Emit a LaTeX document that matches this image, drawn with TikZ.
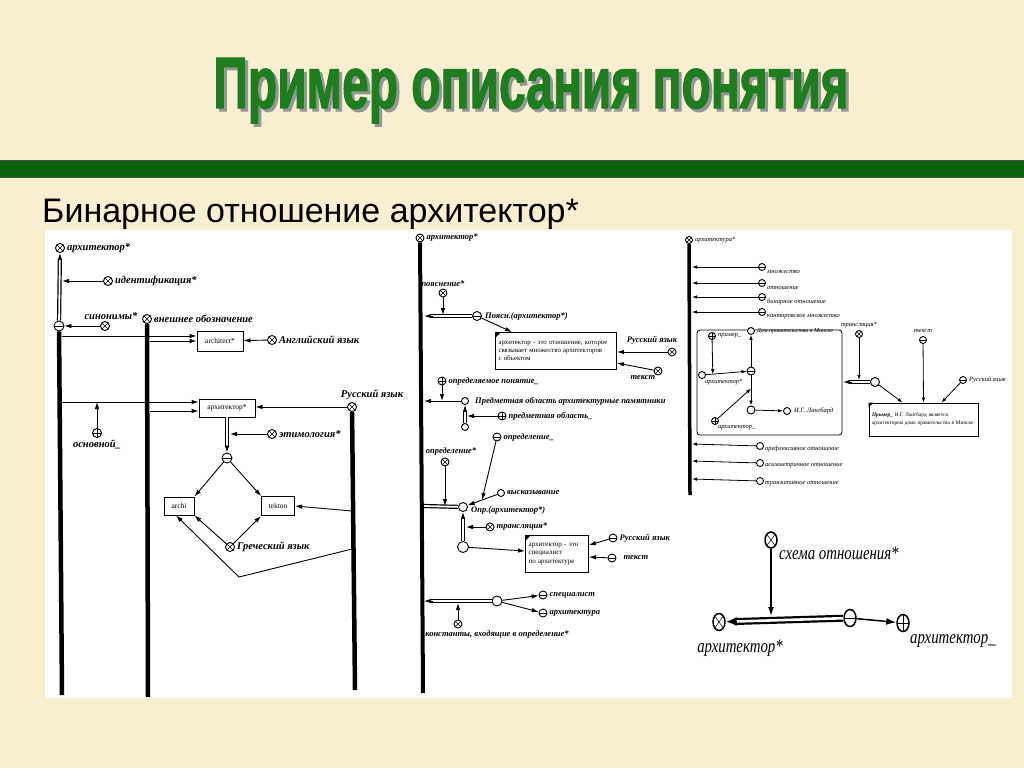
\documentclass[tikz,border=0pt]{standalone}
\usepackage{fontspec}
\usepackage{graphicx}
\setmainfont{Liberation Serif}
\setsansfont{Liberation Sans}
\newfontfamily\narrowserif[FakeStretch=0.78]{Liberation Serif}
\newfontfamily\titlefont[BoldFeatures={FakeBold=2}]{Liberation Sans}
\usetikzlibrary{arrows.meta,calc,positioning,shapes.geometric}

\definecolor{slidebg}{RGB}{247,239,208}
\definecolor{bargreen}{RGB}{12,98,12}
\definecolor{titlegreen}{RGB}{30,125,30}
\definecolor{shadowgray}{RGB}{150,150,150}

% double line ending in a filled tip
\newcommand\dblarr[2]{%
  \draw[dline, shorten >=6pt] (#1) -- (#2);
  \draw[arr] ($(#2)!9pt!(#1)$) -- (#2);}
\newcommand\titletext{\resizebox{635pt}{50pt}{\titlefont\bfseries Пример описания понятия}}

\begin{document}
\begin{tikzpicture}[x=1pt, y=-1pt,
  knot/.style={circle, draw, line width=.9pt, fill=white, inner sep=0pt, minimum size=#1},
  knot/.default=9pt,
  xknot/.style={knot=#1, path picture={\draw[line width=.5pt]
      (path picture bounding box.north west) -- (path picture bounding box.south east)
      (path picture bounding box.north east) -- (path picture bounding box.south west);}},
  xknot/.default=9pt,
  pknot/.style={knot=#1, path picture={\draw[line width=.5pt]
      (path picture bounding box.north) -- (path picture bounding box.south)
      (path picture bounding box.west) -- (path picture bounding box.east);}},
  pknot/.default=9pt,
  mknot/.style={knot=#1, path picture={\draw[line width=.5pt]
      (path picture bounding box.west) -- (path picture bounding box.east);}},
  mknot/.default=9pt,
  dknot/.style={knot=#1, path picture={\fill (path picture bounding box.center) circle (.8pt);}},
  dknot/.default=9pt,
  lbl/.style={font=\bfseries\itshape\fontsize{10.5}{10.5}\selectfont, inner sep=1pt},
  lblm/.style={font=\bfseries\itshape\fontsize{8.5}{8.5}\selectfont, inner sep=1pt},
  lbls/.style={font=\itshape\fontsize{6.5}{6.5}\selectfont, inner sep=1pt},
  lblb/.style={font=\narrowserif\itshape\fontsize{19}{19}\selectfont, inner sep=1pt},
  tbox/.style={draw, line width=.9pt, fill=white, font=\fontsize{7.5}{7.5}\selectfont, inner sep=3pt},
  stem/.style={line width=4.5pt},
  arr/.style={-{Latex[length=7pt,width=4.5pt]}, line width=.9pt},
  arrs/.style={-{Latex[length=5pt,width=3.5pt]}, line width=.8pt},
  dline/.style={double, double distance=1.8pt, line width=1.2pt}]

  \useasboundingbox (0,0) rectangle (1024,768);
  \fill[slidebg] (0,0) rectangle (1024,768);

  % title and bar
  \node[anchor=base, inner sep=0pt] (title) at (531,108)
    {\rlap{\hspace{3pt}\raisebox{-3pt}{\textcolor{shadowgray}{\titletext}}}\textcolor{titlegreen}{\titletext}};
  \fill[bargreen] (0,160) rectangle (1024,177);
  \draw[black!70, line width=1pt] (0,160) -- (1024,160) (0,177) -- (1024,177);
  \node[anchor=base west, inner sep=0pt, font=\sffamily\fontsize{34}{34}\selectfont]
    (subtitle) at (42,222) {Бинарное отношение архитектор*};

  \fill[white] (45,230) rectangle (1012,698);

  %% left part
  \node[xknot] (a1) at (60,248) {};
  \node[lbl, right=1pt of a1] (a1t) {архитектор*};
  \node[mknot=10pt] (ajn) at (59,326) {};
  \node[xknot] (idf) at (108,281) {};
  \node[lbl, right=1pt of idf] (idft) {идентификация*};
  \node[xknot] (syn) at (105,326) {};
  \node[lbl, above=0pt of syn, xshift=6pt] (synt) {синонимы*};
  \node[xknot] (ext) at (147,319) {};
  \node[lbl, right=1pt of ext] (extt) {внешнее обозначение};
  \node[xknot] (rus) at (352,407) {};
  \node[lbl, above=1pt of rus, xshift=20pt] (rust) {Русский язык};
  \coordinate (L1e) at (62,695);
  \coordinate (L2e) at (148,697);
  \coordinate (L3e) at (355,690);
  \draw[stem] (ajn) -- (L1e);
  \draw[stem] (ext) -- (L2e);
  \draw[stem] (rus) -- (L3e);

  \node[tbox, minimum width=46pt, minimum height=20pt] (archEn) at (220,341) {architect*};
  \node[xknot] (eng) at (272,340) {};
  \node[lbl, right=1pt of eng] (engt) {Английский язык};
  \node[tbox, minimum width=56pt, minimum height=18pt] (archRu) at (227,408) {архитектор*};
  \node[pknot] (osn) at (97,433) {};
  \node[lbl, below=1pt of osn] (osnt) {основной\_};
  \node[xknot] (etm) at (272,434) {};
  \node[lbl, right=1pt of etm] (etmt) {этимология*};
  \node[mknot=10pt] (grj) at (227,458) {};
  \node[tbox, minimum width=30pt, minimum height=18pt] (archi) at (179,506) {archi};
  \node[tbox, minimum width=33pt, minimum height=19pt] (tekton) at (278,506) {tekton};
  \node[xknot] (grk) at (230,547) {};
  \node[lbl, right=1pt of grk] (grkt) {Греческий язык};

  \dblarr{ajn}{a1}
  \coordinate (cidf) at (62,281);
  \draw[arr] (idf) -- (cidf);
  \draw[arr] (syn) -- (ajn);
  \coordinate (c1) at (62,336);
  \coordinate (c2) at (150,341);
  \draw[arr] (c1) -- (c1 -| archEn.west);
  \draw[arr] (c2) -- (archEn.west);
  \draw[arr] (eng) -- (archEn);
  \coordinate (c3) at (62,402);
  \coordinate (c4) at (150,411);
  \coordinate (c5) at (97,402);
  \draw[arr] (c3) -- (c3 -| archRu.west);
  \draw[arr] (c4) -- (c4 -| archRu.west);
  \draw[arr] (osn) -- (c5);
  \draw[arr] (rus) -- (rus -| archRu.east);
  \dblarr{archRu}{grj}
  \coordinate (c6) at (230,434);
  \draw[arr] (etm) -- (c6);
  \draw[arr] (grj) -- (archi.north east);
  \draw[arr] (grj) -- (tekton.north west);
  \draw[arr] (grk) -- (archi.south east);
  \draw[arr] (grk) -- (tekton.south west);
  \coordinate (c7) at (352,511);
  \coordinate (c8) at (352,549);
  \coordinate (c9) at (239,577);
  \draw[arr] (c7) -- (tekton.east);
  \draw[arr] (c8) -- (c9) -- ([xshift=-3pt]archi.south);

  %% middle part
  \node[xknot=8pt] (m1) at (420,238) {};
  \node[lblm, right=1pt of m1] (m1t) {архитектор*};
  \coordinate (M1e) at (423,693);
  \draw[stem, line width=4pt] (m1) -- (M1e);

  \node[xknot=8pt] (poy) at (443,293) {};
  \node[lblm, above=1pt of poy] (poyt) {пояснение*};
  \node[mknot=9pt] (pjn) at (477,316) {};
  \node[lblm, right=2pt of pjn] (pjnt) {Поясн.(архитектор*)};
  \coordinate (cm1) at (424,316);
  \coordinate (cm2) at (443,315);
  \dblarr{pjn}{cm1}
  \draw[arr] (poy) -- (cm2);
  \node[tbox, font=\fontsize{6.8}{8.2}\selectfont, align=left, text width=115pt,
    minimum height=37pt] (defA) at (556,351)
    {архитектор - это отношение, которое\\связывает множество архитекторов\\с объектом};
  \fill (defA.north west) -- ++(6,0) -- ++(-6,6) -- cycle;
  \draw[arr] (pjn) -- ([xshift=17pt]defA.north west);
  \node[xknot=8pt] (rusM) at (672,352) {};
  \node[lblm] (rusMt) at (652,340) {Русский язык};
  \draw[arr] (rusM) -- (rusM -| defA.east);
  \node[xknot=8pt] (txtM) at (658,371) {};
  \node[lblm] (txtMt) at (643,378) {текст};
  \draw[arr] (txtM) -- ($(defA.east)+(0,12)$);

  \node[pknot=8pt] (opr) at (442,381) {};
  \node[lblm, right=1pt of opr] (oprt) {определяемое понятие\_};
  \node[dknot=7pt] (oa) at (465,401) {};
  \node[lblm, right=5pt of oa] (oat) {Предметная область архитектурные памятники};
  \node[dknot=7pt] (ob) at (465,427) {};
  \coordinate (cm3) at (424,401);
  \coordinate (cm4) at (442,401);
  \coordinate (cm5) at (467,416);
  \draw[arr] (oa) -- (cm3);
  \draw[arr] (opr) -- (cm4);
  \dblarr{ob}{oa}
  \node[pknot=8pt] (pob) at (502,416) {};
  \node[lblm, right=1pt of pob] (pobt) {предметная область\_};
  \draw[arr] (pob) -- (cm5);

  \node[mknot=8pt] (opdu) at (497,437) {};
  \node[lblm, right=1pt of opdu] (opdut) {определение\_};
  \node[xknot=8pt] (opd) at (445,462) {};
  \node[lblm, above=1pt of opd, xshift=6pt] (opdt) {определение*};
  \node[dknot=9pt] (ojn) at (463,507) {};
  \node[lblm, right=2pt of ojn, yshift=-3pt] (ojnt) {Опр.(архитектор*)};
  \node[dknot=7pt] (vys) at (501,493) {};
  \node[lblm, right=1pt of vys] (vyst) {высказывание};
  \coordinate (cm6) at (424,506);
  \coordinate (cm7) at (445,506);
  \draw[dline] (cm6) -- (ojn);
  \draw[arr] (opd) -- (cm7);
  \draw[arr] (vys) -- (ojn);
  \draw[arr] (opdu) -- ($(vys)!0.5!(ojn)$);
  \node[knot=11pt] (olow) at (463,547) {};
  \dblarr{olow}{ojn}
  \node[xknot=8pt] (trn) at (490,527) {};
  \node[lblm, right=1pt of trn] (trnt) {трансляция*};
  \coordinate (cm8) at (466,527);
  \draw[arr] (trn) -- (cm8);
  \node[tbox, font=\fontsize{7}{8.5}\selectfont, align=left, text width=57pt,
    minimum height=37pt] (defB) at (557,554)
    {архитектор - это\\специалист\\по архитектуре};
  \fill (defB.north west) -- ++(6,0) -- ++(-6,6) -- cycle;
  \draw[arr] (olow) -- ($(defB.west)+(0,-3)$);
  \node[mknot=8pt] (rusB) at (613,538) {};
  \node[lblm, right=1pt of rusB] (rusBt) {Русский язык};
  \draw[arr] (rusB) -- ($(defB.east)+(0,-9)$);
  \node[mknot=8pt] (txtB) at (612,558) {};
  \node[lblm, right=6pt of txtB] (txtBt) {текст};
  \draw[arr] (txtB) -- ($(defB.east)+(0,3)$);

  \node[knot=10pt] (cjn) at (497,601) {};
  \coordinate (cm9) at (424,601);
  \dblarr{cjn}{cm9}
  \node[xknot=8pt] (cst) at (458,624) {};
  \node[lblm] (cstt) at (497,634) {константы, входящие в определение*};
  \coordinate (cm10) at (458,603);
  \draw[arr] (cst) -- (cm10);
  \node[mknot=8pt] (spc) at (543,595) {};
  \node[lblm, right=1pt of spc] (spct) {специалист};
  \node[mknot=8pt] (arh) at (543,613) {};
  \node[lblm, right=1pt of arh] (arht) {архитектура};
  \draw[arr] (cjn) -- (spc);
  \draw[arr] (cjn) -- (arh);

  %% right part
  \node[xknot=7pt] (r1) at (689,240) {};
  \node[lbls, right=1pt of r1] (r1t) {архитектура*};
  \coordinate (R1e) at (690,495);
  \draw[stem, line width=3.5pt] (r1) -- (R1e);
  \foreach \n/\y/\t in {r2/267/множество, r3/283/отношение, r4/297/бинарное отношение,
      r5/312/канторовское множество}{
    \node[mknot=7pt] (\n) at (762,\y) {};
    \node[lbls, anchor=west] (t\n) at ([yshift=-5pt]\n.east) {\t};
    \coordinate (l\n) at (692,\y);
    \draw[arrs] (\n) -- (l\n);
  }
  \foreach \n/\y/\t in {r6/446/арефлексивное отношение, r7/463/асимметричное отношение,
      r8/481/транзитивное отношение}{
    \node[dknot=7pt] (\n) at (760,\y) {};
    \node[lbls, anchor=west] (t\n) at ([yshift=-3pt]\n.east) {\t};
    \coordinate (l\n) at (692,\y-2);
    \draw[arrs] (\n) -- (l\n);
  }

  \node[draw, line width=.8pt, rounded corners=3pt, minimum width=145pt,
    minimum height=105pt] (exbox) at (769.5,382.5) {};
  \node[pknot=7pt] (prm) at (712,336) {};
  \node[lbls, right=1pt of prm] (prmt) {пример\_};
  \node[knot=7pt] (dom) at (751,331) {};
  \node[lbls, right=1pt of dom, font=\itshape\fontsize{6}{6}\selectfont] (domt) {Дом правительства в Минске};
  \node[mknot=8pt] (ecen) at (751,371) {};
  \node[knot=7pt] (ear) at (702,375) {};
  \node[lbls, anchor=north west] (eart) at ([xshift=-1pt]ear.south east) {архитектор*};
  \node[knot=8pt] (elow) at (751,410) {};
  \node[pknot=7pt] (ear2) at (715,421) {};
  \node[lbls, anchor=north west] (ear2t) at ([xshift=-1pt]ear2.south east) {архитектор\_};
  \node[knot=7pt] (lang) at (787,411) {};
  \node[lbls, right=2pt of lang] (langt) {И.Г. Лангбард};
  \draw[arrs] (ear) -- (ecen);
  \draw[arrs] (prm) -- ($(ear)!0.22!(ecen)$);
  \draw[arrs] (ecen) -- (dom);
  \draw[arrs] (ecen) -- (elow);
  \draw[arrs] (ear2) -- ($(ecen)!0.45!(elow)$);
  \draw[arrs] (elow) -- (lang);

  \node[knot=9pt] (trR) at (875,382) {};
  \coordinate (ce1) at (843,382);
  \dblarr{trR}{ce1}
  \node[xknot=7pt] (tr2) at (859,334) {};
  \node[lbls, above=1pt of tr2] (tr2t) {трансляция*};
  \coordinate (ce2) at (859,380);
  \draw[arrs] (tr2) -- (ce2);
  \node[tbox, font=\fontsize{5.3}{8}\selectfont, align=left, text width=103pt,
    minimum height=33pt] (exB) at (923.5,419.5)
    {\textbf{\textit{Пример\_}} И.Г. Лангбард является\\архитектором дома правительства в Минске.};
  \fill (exB.north west) -- ++(5,0) -- ++(-5,5) -- cycle;
  \draw[arrs] (trR) -- ([xshift=-21pt]exB.north);
  \node[mknot=7pt] (txR) at (923,340) {};
  \node[lbls, above=2pt of txR] (txRt) {текст};
  \draw[arrs] (txR) -- (exB.north);
  \node[mknot=7pt] (rsR) at (963,380) {};
  \node[lbls, right=1pt of rsR] (rsRt) {Русский язык};
  \draw[arrs] (rsR) -- ([xshift=18pt]exB.north);

  %% relation scheme
  \node[xknot, ellipse, minimum width=12pt, minimum height=16pt, line width=1.5pt] (sch) at (771,540) {};
  \node[lblb, anchor=west] (scht) at (778,553) {схема отношения*};
  \node[mknot, ellipse, minimum width=12pt, minimum height=17pt, line width=1.5pt] (sjn) at (850,618) {};
  \node[xknot, ellipse, minimum width=12pt, minimum height=17pt, line width=1.5pt] (sar) at (719,622) {};
  \node[lblb] (sart) at (740,648) {архитектор*};
  \node[pknot, ellipse, minimum width=12pt, minimum height=17pt, line width=1.5pt] (sar2) at (903,623) {};
  \node[lblb, anchor=west] (sar2t) at (909,641) {архитектор\_};
  \draw[double, double distance=2.6pt, line width=2.2pt, shorten >=9pt] (sjn) -- (sar);
  \draw[-{Latex[length=11pt,width=9pt]}, line width=2pt] ($(sar)!15pt!(sjn)$) -- (sar);
  \coordinate (cs1) at (771,616);
  \draw[-{Latex[length=9pt,width=6pt]}, line width=1.2pt] (sch) -- (cs1);
  \draw[-{Latex[length=10pt,width=7pt]}, line width=1.5pt] (sjn) -- (sar2);
\end{tikzpicture}
\end{document}
